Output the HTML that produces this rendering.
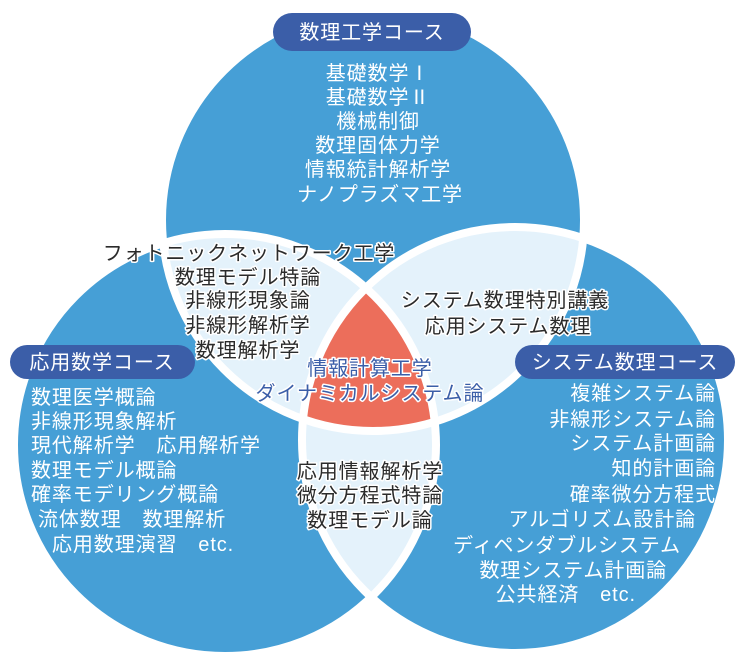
<!DOCTYPE html>
<html><head><meta charset="utf-8"><style>
html,body{margin:0;padding:0;background:#fff;width:740px;height:672px;overflow:hidden}
svg text{font-family:"Liberation Sans","Noto Sans CJK JP",sans-serif;font-size:20px;letter-spacing:0.9px}
.w{fill:#fff}
.d{fill:#2b2b2b;stroke:#fff;stroke-width:3px;paint-order:stroke;stroke-linejoin:round}
.b{fill:#3b5ea8;stroke:#fff;stroke-width:3px;paint-order:stroke;stroke-linejoin:round}
</style></head><body>
<svg width="740" height="672" viewBox="0 0 740 672" xmlns="http://www.w3.org/2000/svg">
<defs>
<clipPath id="cT"><circle cx="373" cy="220" r="211"/></clipPath>
<clipPath id="cL"><circle cx="225" cy="445" r="211"/></clipPath>
<clipPath id="cR"><circle cx="515" cy="440" r="213"/></clipPath>
</defs>
<circle cx="373" cy="220" r="211" fill="#469fd6"/>
<circle cx="225" cy="445" r="211" fill="#469fd6"/>
<circle cx="515" cy="440" r="213" fill="#469fd6"/>
<g clip-path="url(#cT)"><circle cx="225" cy="445" r="211" fill="#e4f2fb"/><circle cx="515" cy="440" r="213" fill="#e4f2fb"/></g>
<g clip-path="url(#cL)"><circle cx="515" cy="440" r="213" fill="#e4f2fb"/></g>
<g clip-path="url(#cT)"><g clip-path="url(#cL)"><circle cx="515" cy="440" r="213" fill="#ec6e5b"/></g></g>
<g fill="none" stroke="#fff" stroke-width="8">
<circle cx="373" cy="220" r="211"/><circle cx="225" cy="445" r="211"/><circle cx="515" cy="440" r="213"/>
</g>
<rect x="273" y="13" width="198" height="38" rx="19" fill="#3b5ea8"/>
<rect x="10" y="345" width="185" height="34" rx="17" fill="#3b5ea8"/>
<rect x="515" y="345" width="220" height="34" rx="17" fill="#3b5ea8"/>
<text class="w" x="372" y="39" text-anchor="middle">数理工学コース</text>
<text class="w" x="102" y="369" text-anchor="middle">応用数学コース</text>
<text class="w" x="625" y="369" text-anchor="middle">システム数理コース</text>
<g class="w" text-anchor="middle">
<text x="378" y="80">基礎数学Ⅰ</text><text x="378" y="104">基礎数学Ⅱ</text><text x="378" y="128">機械制御</text>
<text x="378" y="152">数理固体力学</text><text x="378" y="176">情報統計解析学</text><text x="380" y="201">ナノプラズマ工学</text>
</g>
<g class="w">
<text x="31" y="404">数理医学概論</text><text x="31" y="428">非線形現象解析</text><text x="31" y="452">現代解析学　応用解析学</text>
<text x="31" y="477">数理モデル概論</text><text x="31" y="501">確率モデリング概論</text><text x="38" y="526">流体数理　数理解析</text>
<text x="52" y="551">応用数理演習　etc.</text>
</g>
<g class="w" text-anchor="end">
<text x="716" y="400">複雑システム論</text><text x="716" y="426">非線形システム論</text><text x="716" y="450">システム計画論</text>
<text x="716" y="475">知的計画論</text><text x="716" y="501">確率微分方程式</text><text x="696" y="526">アルゴリズム設計論</text>
<text x="681" y="552">ディペンダブルシステム</text><text x="667" y="577">数理システム計画論</text><text x="636" y="601">公共経済　etc.</text>
</g>
<g class="d" text-anchor="middle">
<text x="249" y="260">フォトニックネットワーク工学</text><text x="248" y="284">数理モデル特論</text>
<text x="248" y="307">非線形現象論</text><text x="248" y="332">非線形解析学</text><text x="248" y="357">数理解析学</text>
<text x="505" y="307">システム数理特別講義</text><text x="508" y="333">応用システム数理</text>
<text x="370" y="478">応用情報解析学</text><text x="370" y="502">微分方程式特論</text><text x="370" y="527">数理モデル論</text>
</g>
<g class="b" text-anchor="middle">
<text x="370" y="375">情報計算工学</text><text x="370" y="400">ダイナミカルシステム論</text>
</g>
</svg>
</body></html>
